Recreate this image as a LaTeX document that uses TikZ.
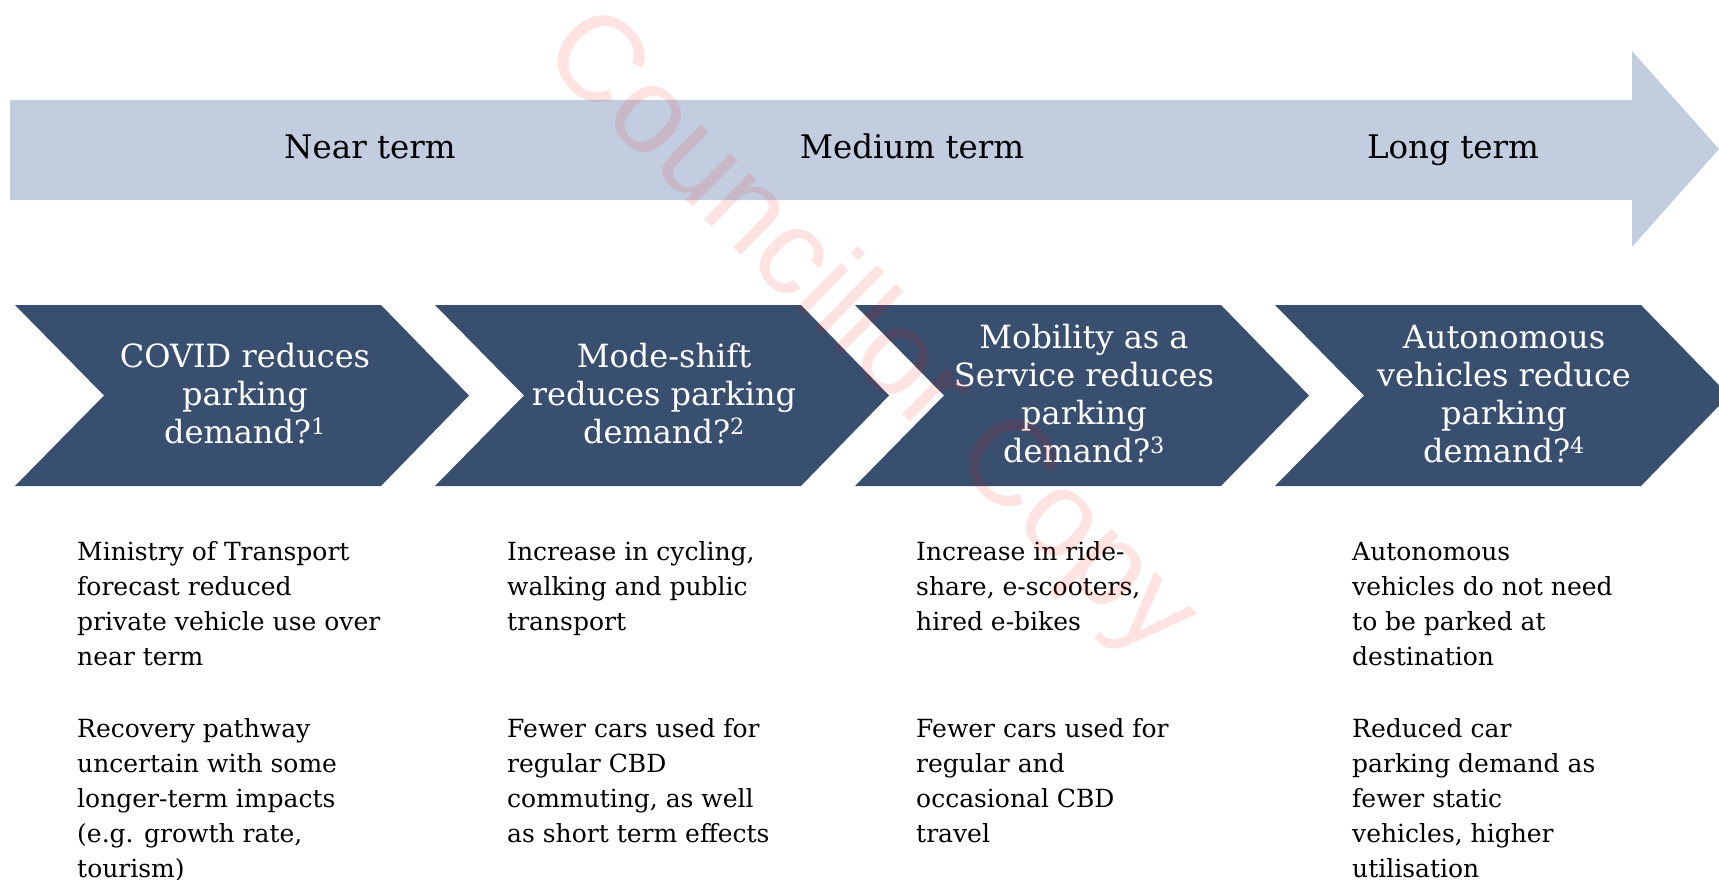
\documentclass[tikz,border=0pt]{standalone}
\usepackage{fontspec}
\setmainfont{DejaVu Serif}
\newfontfamily\wmfont{Liberation Sans}
\definecolor{arrowblue}{HTML}{C2CEE0}
\definecolor{navy}{HTML}{384F6F}
\begin{document}
\begin{tikzpicture}[x=1pt,y=-1pt,
  termlabel/.style={font=\fontsize{32.5}{38}\selectfont, text=black, inner sep=0pt, anchor=base},
  chevtext/.style={font=\fontsize{32}{38}\selectfont, text=white, align=center, inner sep=0pt},
  bodytext/.style={font=\fontsize{25}{35}\selectfont, text=black, align=left, anchor=north west, inner sep=0pt},
  chevfill/.style={fill=navy},
  watermark/.style={font=\wmfont\fontsize{122}{122}\selectfont, text=red, text opacity=0.11, rotate=-44.5, inner sep=0pt}]
\useasboundingbox (0,0) rectangle (1719,880);
\clip (0,0) rectangle (1719,880);
% timeline arrow
\fill[arrowblue] (10,100) -- (1632,100) -- (1632,51) -- (1719,149) -- (1632,247) -- (1632,200) -- (10,200) -- cycle;
\node[termlabel] (near) at (370,159) {Near term};
\node[termlabel] (medium) at (912,159) {Medium term};
\node[termlabel] (long) at (1453,159) {Long term};
% chevrons
\foreach \L in {15,435,855,1275} {
  \fill[chevfill] (\L,305) -- ({\L+366},305) -- ({\L+454},395.5) -- ({\L+366},486) -- (\L,486) -- ({\L+89},395.5) -- cycle;
}
\node[chevtext] (c1) at (245,394) {COVID reduces\\parking\\demand?\textsuperscript{1}};
\node[chevtext] (c2) at (664,394) {Mode-shift\\reduces parking\\demand?\textsuperscript{2}};
\node[chevtext] (c3) at (1084,394) {Mobility as a\\Service reduces\\parking\\demand?\textsuperscript{3}};
\node[chevtext] (c4) at (1504,394) {Autonomous\\vehicles reduce\\parking\\demand?\textsuperscript{4}};
% descriptions
\node[bodytext] (d1a) at (77,536) {\strut Ministry of Transport\\forecast reduced\\private vehicle use over\\near term};
\node[bodytext] (d1b) at (77,713) {\strut Recovery pathway\\uncertain with some\\longer-term impacts\\(e.g. growth rate,\\tourism)};
\node[bodytext] (d2a) at (507,536) {\strut Increase in cycling,\\walking and public\\transport};
\node[bodytext] (d2b) at (507,713) {\strut Fewer cars used for\\regular CBD\\commuting, as well\\as short term effects};
\node[bodytext] (d3a) at (916,536) {\strut Increase in ride-\\share, e-scooters,\\hired e-bikes};
\node[bodytext] (d3b) at (916,713) {\strut Fewer cars used for\\regular and\\occasional CBD\\travel};
\node[bodytext] (d4a) at (1352,536) {\strut Autonomous\\vehicles do not need\\to be parked at\\destination};
\node[bodytext] (d4b) at (1352,713) {\strut Reduced car\\parking demand as\\fewer static\\vehicles, higher\\utilisation};
% watermark
\node[watermark] (wm) at (868,336) {Councillor Copy};
\end{tikzpicture}
\end{document}
